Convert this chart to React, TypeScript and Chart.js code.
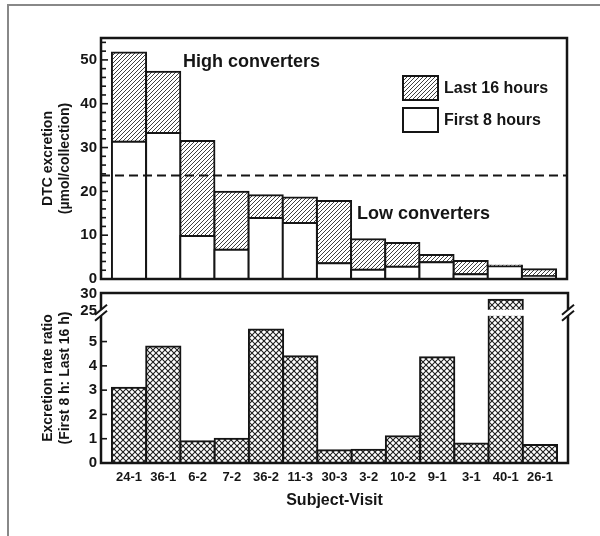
import { useEffect, useRef } from 'react';
import { Chart, registerables } from 'chart.js';

Chart.register(...registerables);

// ---------- data ----------
const categories = ['24-1', '36-1', '6-2', '7-2', '36-2', '11-3', '30-3', '3-2', '10-2', '9-1', '3-1', '40-1', '26-1'];
const first8Hours = [31.3, 33.3, 9.8, 6.7, 13.9, 12.8, 3.6, 2.1, 2.8, 3.8, 1.1, 2.9, 0.6];
const last16Hours = [20.4, 14.0, 21.7, 13.2, 5.2, 5.8, 14.2, 7.0, 5.4, 1.7, 3.0, 0.2, 1.6];
const excretionRatio = [3.1, 4.8, 0.9, 1.0, 5.5, 4.4, 0.52, 0.55, 1.1, 4.35, 0.8, 28.4, 0.74];
const converterThreshold = 23.6;
const topMajorTicks = [0, 10, 20, 30, 40, 50];
const topMinorStep = 2;
const bottomTicks = [0, 1, 2, 3, 4, 5, 25, 30];

// axis break for the lower panel: values up to 6 are linear, 25..30 compressed above the break
const mapRatio = (v: number) => (v <= 6 ? v : 6.25 + (v - 25) * 0.14);
const breakLow = 6.06;
const breakHigh = 6.31;

const FONT = '"Liberation Sans", Arial, Helvetica, sans-serif';
const INK = '#151515';

function diagPattern(): CanvasPattern | string {
  const c = document.createElement('canvas');
  c.width = 4; c.height = 4;
  const g = c.getContext('2d');
  if (!g) return '#bbb';
  g.fillStyle = '#fff';
  g.fillRect(0, 0, 4, 4);
  g.strokeStyle = '#2a2a2a';
  g.lineWidth = 0.9;
  g.beginPath();
  g.moveTo(-1, 5); g.lineTo(5, -1);
  g.moveTo(-1, 1); g.lineTo(1, -1);
  g.moveTo(3, 5); g.lineTo(5, 3);
  g.stroke();
  return g.createPattern(c, 'repeat') || '#bbb';
}

function crossPattern(): CanvasPattern | string {
  const s = 6;
  const c = document.createElement('canvas');
  c.width = s; c.height = s;
  const g = c.getContext('2d');
  if (!g) return '#999';
  g.fillStyle = '#fff';
  g.fillRect(0, 0, s, s);
  g.strokeStyle = '#1e1e1e';
  g.lineWidth = 1.1;
  g.beginPath();
  g.moveTo(0, 0); g.lineTo(s, s);
  g.moveTo(0, s); g.lineTo(s, 0);
  g.stroke();
  return g.createPattern(c, 'repeat') || '#999';
}

const indexTicks = (s: any) => {
  s.ticks = categories.map((_, i) => ({ value: i }));
};

export default function App() {
  const topRef = useRef<HTMLCanvasElement>(null);
  const botRef = useRef<HTMLCanvasElement>(null);

  useEffect(() => {
    if (!topRef.current || !botRef.current) return;
    const diag = diagPattern();
    const cross = crossPattern();

    const topDeco = {
      id: 'topDeco',
      afterDatasetsDraw(chart: any) {
        const { ctx, chartArea: a, scales } = chart;
        const x = scales.x, y = scales.y;
        ctx.save();
        // threshold dashed line
        const ty = y.getPixelForValue(converterThreshold);
        ctx.strokeStyle = INK;
        ctx.lineWidth = 2;
        ctx.setLineDash([9, 5]);
        ctx.beginPath();
        ctx.moveTo(a.left, ty);
        ctx.lineTo(a.right, ty);
        ctx.stroke();
        ctx.setLineDash([]);
        // frame
        ctx.lineWidth = 2.5;
        ctx.strokeRect(a.left, a.top, a.right - a.left, a.bottom - a.top);
        // inward tick marks
        ctx.lineWidth = 1.6;
        y.ticks.forEach((t: any) => {
          const py = y.getPixelForValue(t.value);
          const len = topMajorTicks.includes(t.value) ? 7 : 5;
          ctx.beginPath();
          ctx.moveTo(a.left, py);
          ctx.lineTo(a.left + len, py);
          ctx.stroke();
        });
        // annotations
        ctx.fillStyle = INK;
        ctx.textBaseline = 'middle';
        ctx.textAlign = 'left';
        ctx.font = `bold 18px ${FONT}`;
        ctx.fillText('High converters', x.getPixelForValue(1.58), y.getPixelForValue(49.6));
        ctx.fillText('Low converters', x.getPixelForValue(6.67), y.getPixelForValue(14.9));
        // legend (top-right inside the plot)
        const ds = chart.data.datasets.slice().reverse();
        const bx = a.right - 164;
        let by = a.top + 38;
        ctx.font = `bold 16px ${FONT}`;
        ds.forEach((d: any) => {
          ctx.fillStyle = d.backgroundColor;
          ctx.fillRect(bx, by, 35, 24);
          ctx.lineWidth = 2;
          ctx.strokeStyle = INK;
          ctx.strokeRect(bx, by, 35, 24);
          ctx.fillStyle = INK;
          ctx.fillText(d.label, bx + 41, by + 13);
          by += 32;
        });
        ctx.restore();
      },
    };

    const botDeco = {
      id: 'botDeco',
      afterDatasetsDraw(chart: any) {
        const { ctx, chartArea: a, scales } = chart;
        const y = scales.y;
        ctx.save();
        const gTop = y.getPixelForValue(breakHigh);
        const gBot = y.getPixelForValue(breakLow);
        // frame
        ctx.strokeStyle = INK;
        ctx.lineWidth = 2.5;
        ctx.strokeRect(a.left, a.top, a.right - a.left, a.bottom - a.top);
        // gap in the broken bar
        const meta = chart.getDatasetMeta(0);
        excretionRatio.forEach((v, i) => {
          if (v > 6) {
            const el = meta.data[i];
            ctx.fillStyle = '#fff';
            ctx.fillRect(el.x - el.width / 2 - 3, gTop, el.width + 6, gBot - gTop);
          }
        });
        // axis breaks
        [a.left, a.right].forEach((ax: number) => {
          ctx.fillStyle = '#fff';
          ctx.fillRect(ax - 3, gTop, 6, gBot - gTop);
          ctx.strokeStyle = INK;
          ctx.lineWidth = 2;
          [gTop, gBot].forEach((gy: number) => {
            ctx.beginPath();
            ctx.moveTo(ax - 6, gy + 5);
            ctx.lineTo(ax + 6, gy - 5);
            ctx.stroke();
          });
        });
        // inward tick marks
        ctx.lineWidth = 1.6;
        y.ticks.forEach((t: any, i: number) => {
          const v = bottomTicks[i];
          if (v === 0 || v > 6) return;
          const py = y.getPixelForValue(t.value);
          ctx.beginPath();
          ctx.moveTo(a.left, py);
          ctx.lineTo(a.left + 6, py);
          ctx.stroke();
        });
        ctx.restore();
      },
    };

    const barCommon = {
      borderColor: INK,
      borderWidth: 2,
      borderSkipped: false,
      inflateAmount: 1,
      barPercentage: 1,
      categoryPercentage: 1,
    };

    const top = new Chart(topRef.current, {
      type: 'bar',
      data: {
        datasets: [
          { ...barCommon, label: 'First 8 hours', data: first8Hours.map((v, i) => ({ x: i, y: v })), backgroundColor: '#ffffff' },
          { ...barCommon, label: 'Last 16 hours', data: last16Hours.map((v, i) => ({ x: i, y: v })), backgroundColor: diag as any },
        ],
      } as any,
      options: {
        responsive: false,
        animation: false,
        layout: { padding: { left: 0, top: 38, right: 33, bottom: 21 } },
        plugins: { legend: { display: false }, tooltip: { enabled: false } },
        scales: {
          x: {
            type: 'linear', min: -0.82, max: 12.82, stacked: true, display: false, offset: false,
            afterBuildTicks: indexTicks,
          },
          y: {
            type: 'linear', stacked: true, min: 0, max: 55,
            afterBuildTicks: (s: any) => {
              const t = [];
              for (let v = 0; v <= 54; v += topMinorStep) t.push({ value: v });
              s.ticks = t;
            },
            afterFit: (s: any) => { s.width = 101; },
            grid: { display: false, drawTicks: false },
            border: { display: false },
            ticks: {
              autoSkip: false,
              padding: 4,
              color: INK,
              font: { family: FONT, size: 15, weight: 'bold' },
              callback: (v: any) => (topMajorTicks.includes(v) ? String(v) : ''),
            },
            title: {
              display: true,
              text: ['DTC excretion', '(µmol/collection)'],
              color: INK,
              font: { family: FONT, size: 14, weight: 'bold', lineHeight: 1.2 },
              padding: { top: 40, bottom: 0 },
            },
          },
        },
      } as any,
      plugins: [topDeco],
    });

    const bottom = new Chart(botRef.current, {
      type: 'bar',
      data: {
        datasets: [
          { ...barCommon, label: 'Excretion rate ratio', data: excretionRatio.map((v, i) => ({ x: i, y: mapRatio(v) })), backgroundColor: cross as any },
        ],
      } as any,
      options: {
        responsive: false,
        animation: false,
        layout: { padding: { left: 0, top: 18, right: 32, bottom: 0 } },
        plugins: { legend: { display: false }, tooltip: { enabled: false } },
        scales: {
          x: {
            type: 'linear', min: -0.82, max: 12.82, offset: false,
            afterBuildTicks: indexTicks,
            afterFit: (s: any) => { s.height = 73; },
            grid: { display: false, drawTicks: false },
            border: { display: false },
            ticks: {
              autoSkip: false,
              maxRotation: 0,
              padding: 7,
              color: INK,
              font: { family: FONT, size: 13, weight: 'bold' },
              callback: (v: any) => categories[v] ?? '',
            },
            title: {
              display: true,
              text: 'Subject-Visit',
              color: INK,
              font: { family: FONT, size: 16, weight: 'bold', lineHeight: 1.2 },
              padding: { top: 0, bottom: 26 },
            },
          },
          y: {
            type: 'linear', min: 0, max: 7.0,
            afterBuildTicks: (s: any) => { s.ticks = bottomTicks.map((v) => ({ value: mapRatio(v) })); },
            afterFit: (s: any) => { s.width = 101; },
            grid: { display: false, drawTicks: false },
            border: { display: false },
            ticks: {
              autoSkip: false,
              padding: 4,
              color: INK,
              font: { family: FONT, size: 15, weight: 'bold' },
              callback: (_v: any, i: number) => String(bottomTicks[i]),
            },
            title: {
              display: true,
              text: ['Excretion rate ratio', '(First 8 h: Last 16 h)'],
              color: INK,
              font: { family: FONT, size: 14, weight: 'bold', lineHeight: 1.2 },
              padding: { top: 40, bottom: 0 },
            },
          },
        },
      } as any,
      plugins: [botDeco],
    });

    return () => {
      top.destroy();
      bottom.destroy();
    };
  }, []);

  return (
    <div style={{ position: 'absolute', left: 0, top: 0, width: 600, height: 536, background: '#fff', overflow: 'hidden' }}>
      <div style={{ position: 'absolute', left: 7, top: 4, width: 620, height: 560, borderTop: '2px solid #888', borderLeft: '2px solid #888' }} />
      <canvas ref={topRef} width={600} height={300} style={{ position: 'absolute', left: 0, top: 0, display: 'block' }} />
      <canvas ref={botRef} width={600} height={261} style={{ position: 'absolute', left: 0, top: 275, display: 'block' }} />
    </div>
  );
}
